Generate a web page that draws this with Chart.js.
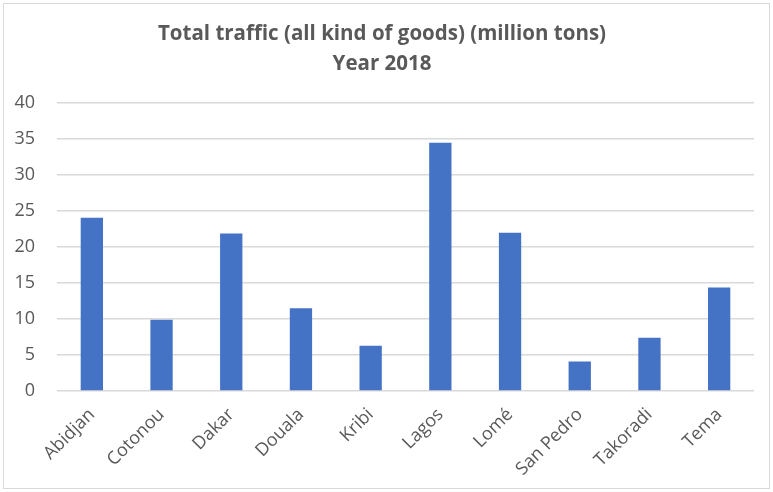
<!DOCTYPE html>
<html>
<head>
<meta charset="utf-8">
<script src="https://cdn.jsdelivr.net/npm/chart.js@4/dist/chart.umd.min.js"></script>
<style>
  body { margin: 0; background: #fff; }
  #box { position: absolute; left: 3px; top: 3px; width: 765px; height: 484px; border: 1px solid #d9d9d9; }
  #box canvas { display: block; }
</style>
</head>
<body>
<div id="box"><canvas id="chart" width="765" height="484"></canvas></div>
<script>
const ports = ['Abidjan', 'Cotonou', 'Dakar', 'Douala', 'Kribi', 'Lagos', 'Lomé', 'San Pedro', 'Takoradi', 'Tema']
const traffic = [24.1, 9.9, 21.9, 11.5, 6.3, 34.5, 22.0, 4.1, 7.4, 14.4]
const titleLines = ['Total traffic (all kind of goods) (million tons)', 'Year 2018']

const textColor = '#595959'
const fontFamily = "'Open Sans', 'Noto Sans', sans-serif"

new Chart(document.getElementById('chart'), {
    type: 'bar',
    data: {
        labels: ports,
        datasets: [{
            data: traffic,
            backgroundColor: '#4472c4',
            barPercentage: 0.32,
            categoryPercentage: 1
        }]
    },
    options: {
        responsive: false,
        animation: false,
        layout: { padding: { left: 6, right: 15, top: 8, bottom: 3 } },
        plugins: {
            legend: { display: false },
            tooltip: { enabled: false },
            title: {
                display: true,
                text: titleLines,
                color: textColor,
                font: { family: fontFamily, size: 20.5, weight: 'bold', lineHeight: 1.42 },
                padding: { top: 8, bottom: 25 }
            }
        },
        scales: {
            y: {
                min: 0,
                max: 40,
                afterFit: (s) => { s.width = 47 },
                ticks: { stepSize: 5, color: textColor, font: { family: fontFamily, size: 18 }, padding: 22 },
                grid: { color: '#d9d9d9', lineWidth: 1.5, drawTicks: false },
                border: { display: false }
            },
            x: {
                afterFit: (s) => { s.paddingLeft = 0; s.paddingRight = 0 },
                ticks: { color: textColor, font: { family: fontFamily, size: 18 }, minRotation: 45, maxRotation: 45, padding: 5 },
                grid: { display: false },
                border: { display: false }
            }
        }
    }
})
</script>
</body>
</html>
